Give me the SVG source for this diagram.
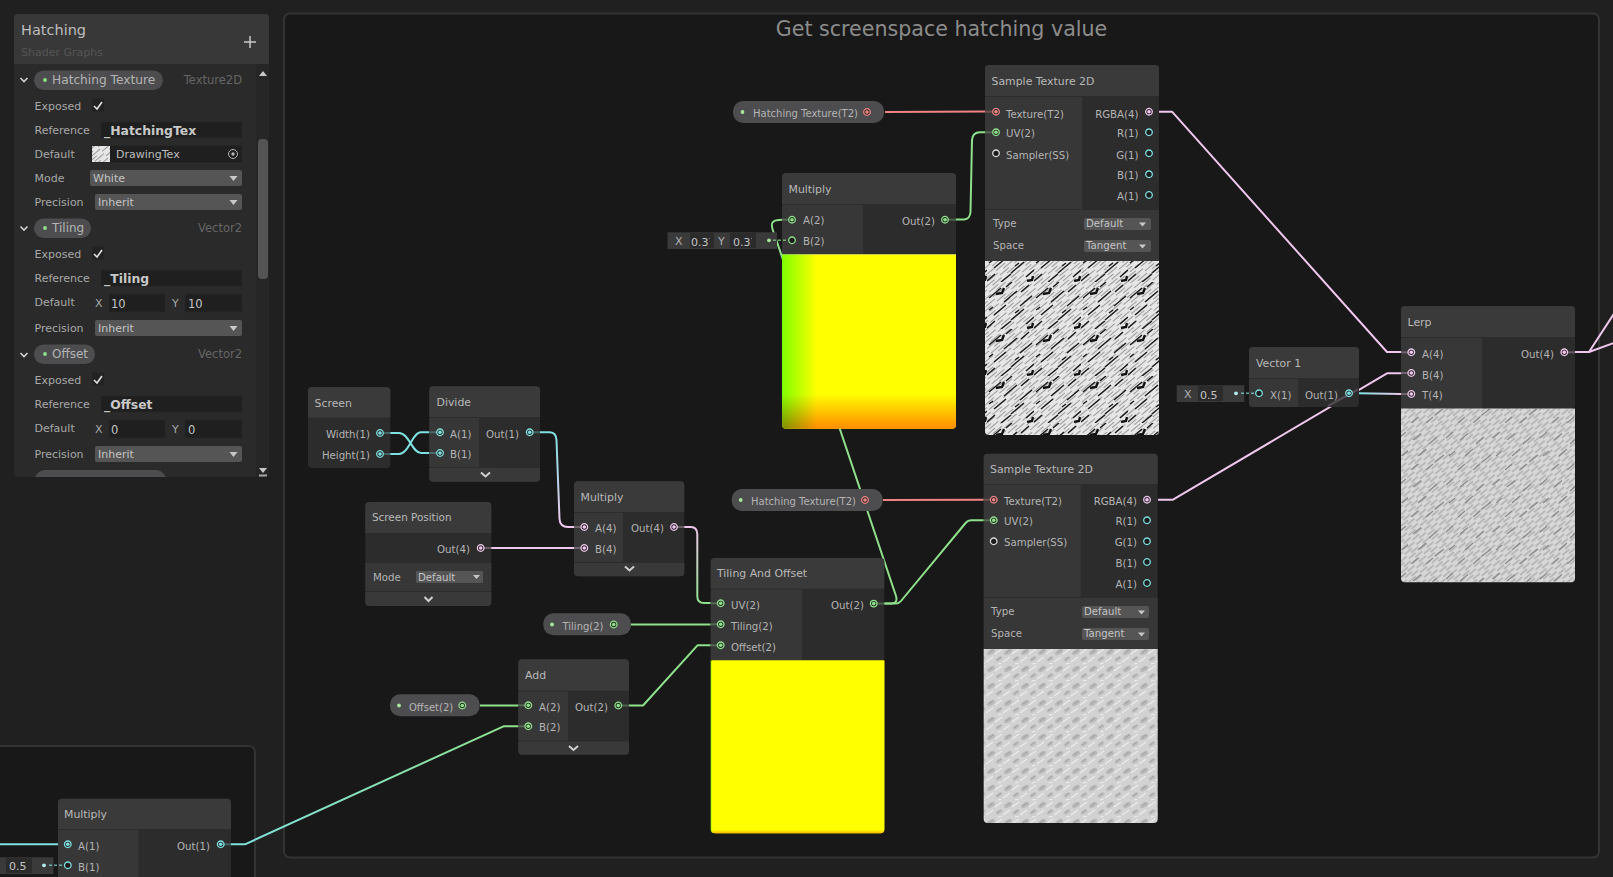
<svg xmlns="http://www.w3.org/2000/svg" width="1613" height="877" viewBox="0 0 1613 877">
<style>
text{font-family:"DejaVu Sans","Liberation Sans",sans-serif;font-size:10.2px;fill:#b4b4b4}
.t{font-size:10.9px;fill:#b8b8b8}
.lb{font-size:11px;fill:#a8a8a8}
.r{text-anchor:end}
.pt{font-size:12px;fill:#b4b4b4}
.ty{font-size:11.5px;fill:#666;text-anchor:end}
.bf{font-size:12.4px;font-weight:bold;fill:#c8c8c8}
.v{font-size:11px;fill:#c4c4c4}
.pl{font-size:10px}
.body{fill:#2c2c2c}
.hd{fill:#3a3a3a}
.lc{fill:#373737}
.ft{fill:#393939}
.pill{fill:#4d4d4f}
.fld{fill:#1f1f1f;stroke:#262626;stroke-width:1}
.dd{fill:#555}
.ar{fill:#c8c8c8}
.vfld{fill:#3a3a3a}
.wire{fill:none;stroke-width:2;stroke-linejoin:round;stroke-linecap:butt}
.chev{fill:none;stroke:#d0d0d0;stroke-width:2}
.chk{fill:none;stroke:#e0e0e0;stroke-width:1.6}
.g{color:#8fe08a}.k{color:#efc6ec}.c{color:#7fe0e0}.s{color:#f08484}.w{color:#dddddd}
.stub{stroke-width:2;opacity:.3}
</style>
<defs>
<g id="pc"><circle r="3.3" fill="#2a2a2a" stroke="currentColor" stroke-width="1.3"/><circle r="1.8" fill="currentColor"/></g>
<g id="po"><circle r="3.3" fill="#1c1c1c" stroke="currentColor" stroke-width="1.3"/></g>
<circle id="dot" r="1.9"/>
<linearGradient id="gDiv" gradientUnits="userSpaceOnUse" x1="0" y1="432" x2="0" y2="527"><stop offset="0" stop-color="#7fe0e0"/><stop offset="1" stop-color="#efc6ec"/></linearGradient>
<linearGradient id="gUv" gradientUnits="userSpaceOnUse" x1="0" y1="527" x2="0" y2="603"><stop offset="0" stop-color="#efc6ec"/><stop offset="1" stop-color="#8fe08a"/></linearGradient>
<linearGradient id="gB" gradientUnits="userSpaceOnUse" x1="231" y1="844" x2="518" y2="726"><stop offset="0" stop-color="#7fe0e0"/><stop offset="1" stop-color="#8fe08a"/></linearGradient>
<linearGradient id="gT" gradientUnits="userSpaceOnUse" x1="1359" y1="0" x2="1401" y2="0"><stop offset="0" stop-color="#7fe0e0"/><stop offset="1" stop-color="#efc6ec"/></linearGradient>
<linearGradient id="mH" x1="0" x2="1" y1="0" y2="0"><stop offset="0" stop-color="#80ff00"/><stop offset=".2" stop-color="#ffff00"/><stop offset="1" stop-color="#ffff00"/></linearGradient>
<linearGradient id="mV" x1="0" x2="0" y1="0" y2="1"><stop offset=".8" stop-color="#ffffff"/><stop offset="1" stop-color="#ff8c00"/></linearGradient>
<linearGradient id="tH" x1="0" x2="1" y1="0" y2="0"><stop offset="0" stop-color="#b8ff00"/><stop offset=".02" stop-color="#ffff00"/></linearGradient>
<linearGradient id="tV" x1="0" x2="0" y1="0" y2="1"><stop offset=".98" stop-color="#ffff00"/><stop offset="1" stop-color="#ffb000"/></linearGradient>
<pattern id="fine1" patternUnits="userSpaceOnUse" width="19" height="6" patternTransform="rotate(-40)"><rect width="19" height="6" fill="#e6e6e6"/><path d="M0 1.500H12M7 4.500H19" stroke="#9a9a9a" stroke-width="1.100"/></pattern>
<pattern id="dash1" patternUnits="userSpaceOnUse" width="47" height="47"><path d="M2 16l12-10M17 20l13-11M33 24l12-10M7 33l12-10M24 38l13-11M39 42l8-7M0 46l8-7M14 47l10-8M34 10l8-7M19 5l6-5M2 28l4-3M28 31l4-3" fill="none" stroke="#1c1c1c" stroke-width="1.500"/><path d="M9 12l6-1 2-5M40 46l5-1 1-4" fill="none" stroke="#111" stroke-width="2.400"/></pattern>
<pattern id="tex2" patternUnits="userSpaceOnUse" width="17" height="17"><rect width="17" height="17" fill="#d2d2d2"/><ellipse cx="5" cy="6" rx="4.500" ry="2.400" transform="rotate(-30 5 6)" fill="#bababa"/><ellipse cx="13" cy="13" rx="3.800" ry="2" transform="rotate(-30 13 13)" fill="#c0c0c0"/><path d="M0 16l7-5M9 8l7-5M12 1l4-1" stroke="#ececec" stroke-width="1.200"/><path d="M3 7l4-3M11 14l4-3" stroke="#9a9a9a" stroke-width=".9"/></pattern>
<pattern id="fine3" patternUnits="userSpaceOnUse" width="15" height="6" patternTransform="rotate(-40)"><rect width="15" height="6" fill="#d8d8d8"/><path d="M0 1.500H9M6 4.500H15" stroke="#adadad" stroke-width="1.300"/></pattern>
<pattern id="dash3" patternUnits="userSpaceOnUse" width="47" height="47"><path d="M3 17l8-6.500M19 21l8-7M36 15l7-6M8 33l8-7M25 39l9-7M39 33l6-5M1 47l7-6M16 47l7-6" fill="none" stroke="#8a8a8a" stroke-width="1.300"/></pattern>
<clipPath id="panelClip"><rect x="14" y="14" width="255" height="463" rx="4"/></clipPath>
</defs>
<rect width="1613" height="877" fill="#202020"/>
<g id="group-main"><rect x="284" y="13.500" width="1315" height="844" rx="6" fill="#181818" stroke="#333" stroke-width="2"/>
<text x="941.500" y="36" text-anchor="middle" style="font-size:20.600px;fill:#8c8c8c">Get screenspace hatching value</text></g>
<g id="group-left"><path d="M-3 746H249a6 6 0 0 1 6 6V880H-3Z" fill="#181818" stroke="#333" stroke-width="2"/></g>

<g id="connectors">
<path class="wire" stroke="#f08484" d="M885 112L985 111.500"/>
<path class="wire" stroke="#8fe08a" d="M956 219.500H964Q970 219 970.500 212L972 140Q972.500 132.500 980 132.300H985"/>
<path class="wire" stroke="#8fe08a" d="M884 603.500H892Q898 603 896 596L775 236Q770 224 773 222Q775 219.700 782 219.700"/>
<path class="wire" stroke="#8fe08a" d="M884 603.500H896Q899 603.500 901 601L966 522.500Q968 520.300 971 520.300H984"/>
<path class="wire" stroke="#f08484" d="M883 500L984 499.700"/>
<path class="wire" stroke="#efc6ec" d="M1159 111.700H1172L1387 352H1401"/>
<path class="wire" stroke="#efc6ec" d="M1158 499.700H1173L1387 373.300H1401"/>
<path class="wire" stroke="url(#gT)" d="M1359 393.300L1401 394"/>
<path class="wire" stroke="#efc6ec" d="M1575 352H1589L1615 312M1589 352L1615 342.500"/>
<path class="wire" stroke="#7fe0e0" d="M390 433H399C409 433 412 453 421 453H429.500M390 454H399C409 454 412 432.300 421 432.300H429.500"/>
<path class="wire" stroke="url(#gDiv)" d="M540 432.300H550Q556 432.500 556.500 440L559.500 519Q560 527 568 527H574"/>
<path class="wire" stroke="#efc6ec" d="M491 548H574"/>
<path class="wire" stroke="url(#gUv)" d="M684 527H691Q697 527 697.300 534V596Q697.300 603 704 603H711"/>
<path class="wire" stroke="#8fe08a" d="M631 624.500H711"/>
<path class="wire" stroke="#8fe08a" d="M480 705.500H518.500"/>
<path class="wire" stroke="#8fe08a" d="M629 705.500H643L697.500 645.300H711"/>
<path class="wire" stroke="url(#gB)" d="M231 844.300H245L503.500 726.300H518.500"/>
<path class="wire" stroke="#7fe0e0" d="M0 844.300H58"/>
</g>

<g id="node-hatch-prop-1"><rect class="pill" x="733" y="101" width="151" height="22" rx="10"/><use href="#dot" x="742.500" y="112" fill="#a8e89c"/><text class="pl" x="753" y="117">Hatching Texture(T2)</text><use href="#pc" x="867" y="112" class="s"/></g>

<g id="node-sample-1"><rect class="body" x="985" y="65" width="174" height="370" rx="4"/><path class="hd" d="M985 96V69a4 4 0 0 1 4-4H1155a4 4 0 0 1 4 4V96Z"/><rect class="lc" x="985" y="97" width="97" height="112"/>
<rect class="lc" x="985" y="210" width="174" height="51"/>
<text class="t" x="991.500" y="85">Sample Texture 2D</text>
<line class="stub" x1="1000" y1="111.700" x2="985" y2="111.700" stroke="#f08484"/><line class="stub" x1="1000" y1="132.300" x2="985" y2="132.300" stroke="#8fe08a"/>
<use href="#pc" x="996" y="111.700" class="s"/><use href="#pc" x="996" y="132.300" class="g"/><use href="#po" x="996" y="153.300" class="w"/>
<text x="1006" y="117.500">Texture(T2)</text><text x="1006" y="137">UV(2)</text><text x="1006" y="158.500">Sampler(SS)</text>
<text class="r" x="1138.500" y="117.500">RGBA(4)</text><text class="r" x="1138.500" y="137">R(1)</text><text class="r" x="1138.500" y="158.500">G(1)</text><text class="r" x="1138.500" y="179">B(1)</text><text class="r" x="1138.500" y="200">A(1)</text>
<use href="#pc" x="1149" y="111.700" class="k"/><use href="#po" x="1149" y="132.300" class="c"/><use href="#po" x="1149" y="153.300" class="c"/><use href="#po" x="1149" y="174.300" class="c"/><use href="#po" x="1149" y="195" class="c"/>
<text x="993" y="227">Type</text><text x="993" y="249">Space</text>
<rect class="dd" x="1084" y="218" width="67" height="12" rx="2"/><rect class="dd" x="1084" y="240" width="67" height="12" rx="2"/>
<text x="1086" y="227" style="fill:#c4c4c4">Default</text><text x="1086" y="249" style="fill:#c4c4c4">Tangent</text>
<path class="ar" d="M1139 222.500h7l-3.500 4zM1139 244.500h7l-3.500 4z"/>
<path id="pv1" fill="url(#fine1)" d="M985 261H1159V431a4 4 0 0 1-4 4H989a4 4 0 0 1-4-4Z"/>
<path fill="url(#dash1)" d="M985 261H1159V431a4 4 0 0 1-4 4H989a4 4 0 0 1-4-4Z"/></g>

<g id="node-multiply-1"><rect class="body" x="782" y="173.300" width="174" height="85" rx="4"/><path class="hd" d="M782 204V177a4 4 0 0 1 4-4H952a4 4 0 0 1 4 4V204Z"/><rect class="lc" x="782" y="205" width="81" height="50"/>
<text class="t" x="788.500" y="193">Multiply</text>
<line class="stub" x1="793" y1="219.700" x2="782" y2="219.700" stroke="#8fe08a"/>
<use href="#pc" x="792" y="219.700" class="g"/><use href="#po" x="792" y="240.300" class="g"/>
<text x="803" y="224">A(2)</text><text x="803" y="245">B(2)</text><text class="r" x="935" y="224.500">Out(2)</text><use href="#pc" x="945" y="219.700" class="g"/>
<line x1="945" y1="219.700" x2="956" y2="219.700" class="stub" stroke="#8fe08a"/>
<g style="isolation:isolate"><path fill="url(#mH)" d="M782 254.500H956V424.700a4 4 0 0 1-4 4H786a4 4 0 0 1-4-4Z"/><path fill="url(#mV)" style="mix-blend-mode:multiply" d="M782 254.500H956V424.700a4 4 0 0 1-4 4H786a4 4 0 0 1-4-4Z"/></g>
<rect class="vfld" x="667.500" y="232.300" width="109.500" height="16.700"/><rect x="690" y="233" width="24" height="15" fill="#2b2b2b"/><rect x="730" y="233" width="26" height="15" fill="#2b2b2b"/>
<text x="675" y="245" style="fill:#b0b0b0;font-size:11px">X</text><text x="691" y="245.500" class="v">0.37</text><text x="718" y="245" style="fill:#b0b0b0;font-size:11px">Y</text><text x="733" y="245.500" class="v">0.37</text>
<rect x="710" y="233" width="4" height="15" fill="#2b2b2b"/><rect x="714" y="233" width="4" height="15" fill="#3a3a3a"/><rect x="752" y="233" width="4" height="15" fill="#2b2b2b"/><rect x="756" y="233" width="6" height="15" fill="#3a3a3a"/>
<use href="#dot" x="769" y="240.300" fill="#a8e89c"/><path d="M773 240.300H788" stroke="#8fe08a" stroke-width="1.500" stroke-dasharray="3 2" opacity=".7"/></g>

<g id="node-screen"><rect class="body" x="308" y="387" width="82.300" height="81" rx="4"/><path class="hd" d="M308 417.500V391a4 4 0 0 1 4-4H386.300a4 4 0 0 1 4 4V417.500Z"/><text class="t" x="314.500" y="407">Screen</text><text class="r" x="370" y="437.500">Width(1)</text><text class="r" x="370" y="459">Height(1)</text>
<line class="stub" x1="381" y1="433" x2="390" y2="433" stroke="#7fe0e0"/><line class="stub" x1="381" y1="454" x2="390" y2="454" stroke="#7fe0e0"/><use href="#pc" x="380" y="433" class="c"/><use href="#pc" x="380" y="454" class="c"/></g>

<g id="node-divide"><rect class="body" x="429.300" y="386.300" width="110.700" height="95.400" rx="4"/><path class="hd" d="M429.300 417V390.300a4 4 0 0 1 4-4H536a4 4 0 0 1 4 4V417Z"/><rect class="lc" x="429.300" y="418" width="49.700" height="49"/><path class="ft" d="M429.300 468H540V477.700a4 4 0 0 1-4 4H433.300a4 4 0 0 1-4-4Z"/>
<text class="t" x="436.500" y="406">Divide</text><text x="450" y="437.500">A(1)</text><text x="450" y="458">B(1)</text><text class="r" x="519" y="437.500">Out(1)</text>
<use href="#pc" x="440" y="432.300" class="c"/><use href="#pc" x="440" y="453" class="c"/><use href="#pc" x="529.700" y="432.300" class="c"/><line class="stub" x1="429.300" y1="432.300" x2="437" y2="432.300" stroke="#7fe0e0"/><line class="stub" x1="429.300" y1="453" x2="437" y2="453" stroke="#7fe0e0"/><line class="stub" x1="533" y1="432.300" x2="540" y2="432.300" stroke="#7fe0e0"/>
<path class="chev" d="M481 472.500l4.500 4 4.500-4"/></g>

<g id="node-screen-position"><rect class="body" x="365.300" y="502" width="126" height="104" rx="4"/><path class="hd" d="M365.300 533V506a4 4 0 0 1 4-4H487.300a4 4 0 0 1 4 4V533Z"/><rect class="lc" x="365.300" y="563" width="126" height="28"/><path class="ft" d="M365.300 592H491.300V602a4 4 0 0 1-4 4H369.300a4 4 0 0 1-4-4Z"/>
<text class="t" x="372" y="521" style="font-size:10.400px">Screen Position</text><text class="r" x="470" y="553">Out(4)</text><use href="#pc" x="480.700" y="548" class="k"/><line class="stub" x1="484" y1="548" x2="491" y2="548" stroke="#efc6ec"/>
<text x="373" y="581">Mode</text><rect class="dd" x="416" y="571" width="67" height="12" rx="1"/><text x="418" y="581" style="fill:#c4c4c4">Default</text><path class="ar" d="M473 575h7l-3.500 4z"/>
<path class="chev" d="M424.500 597l4 4 4-4"/></g>

<g id="node-multiply-3"><rect class="body" x="574" y="481.300" width="110.300" height="95" rx="4"/><path class="hd" d="M574 512V485.300a4 4 0 0 1 4-4H680.300a4 4 0 0 1 4 4V512Z"/><rect class="lc" x="574" y="513" width="49" height="49"/><path class="ft" d="M574 563H684.300V572.300a4 4 0 0 1-4 4H578a4 4 0 0 1-4-4Z"/>
<text class="t" x="580.500" y="501">Multiply</text><text x="595" y="532">A(4)</text><text x="595" y="553">B(4)</text><text class="r" x="664" y="532">Out(4)</text>
<use href="#pc" x="584.300" y="527" class="k"/><use href="#pc" x="584.300" y="548" class="k"/><use href="#pc" x="674" y="527" class="k"/><line class="stub" x1="574" y1="527" x2="581" y2="527" stroke="#efc6ec"/><line class="stub" x1="574" y1="548" x2="581" y2="548" stroke="#efc6ec"/><line class="stub" x1="677" y1="527" x2="684" y2="527" stroke="#efc6ec"/>
<path class="chev" d="M625 566.500l4.500 4 4.500-4"/></g>

<g id="node-tiling-prop"><rect class="pill" x="543.300" y="613.300" width="87.700" height="22" rx="10"/><use href="#dot" x="552" y="624.500" fill="#a8e89c"/><text class="pl" x="562.500" y="629.500">Tiling(2)</text><use href="#pc" x="613.700" y="624.500" class="g"/></g>
<g id="node-offset-prop"><rect class="pill" x="390" y="694.300" width="89.700" height="22" rx="10"/><use href="#dot" x="399" y="705.500" fill="#a8e89c"/><text class="pl" x="409" y="711">Offset(2)</text><use href="#pc" x="462.300" y="705.500" class="g"/></g>

<g id="node-add"><rect class="body" x="518.300" y="659.300" width="110.700" height="95.400" rx="4"/><path class="hd" d="M518.300 690.500V663.300a4 4 0 0 1 4-4H625a4 4 0 0 1 4 4V690.500Z"/><rect class="lc" x="518.300" y="691.500" width="49.700" height="49"/><path class="ft" d="M518.300 741.500H629V750.700a4 4 0 0 1-4 4H522.300a4 4 0 0 1-4-4Z"/>
<text class="t" x="525" y="679">Add</text><text x="539" y="711">A(2)</text><text x="539" y="731">B(2)</text><text class="r" x="608" y="711">Out(2)</text>
<use href="#pc" x="528.300" y="705.300" class="g"/><use href="#pc" x="528.300" y="726.300" class="g"/><use href="#pc" x="618.300" y="705.500" class="g"/><line class="stub" x1="518" y1="705.300" x2="525" y2="705.300" stroke="#8fe08a"/><line class="stub" x1="518" y1="726.300" x2="525" y2="726.300" stroke="#8fe08a"/><line class="stub" x1="622" y1="705.500" x2="629" y2="705.500" stroke="#8fe08a"/>
<path class="chev" d="M569 746l4.500 4 4.500-4"/></g>

<g id="node-tiling-offset"><rect class="body" x="710.700" y="558" width="173.600" height="103" rx="4"/><path class="hd" d="M710.700 588.500V562a4 4 0 0 1 4-4H880.300a4 4 0 0 1 4 4V588.500Z"/><rect class="lc" x="710.700" y="589.500" width="91.300" height="71"/>
<text class="t" x="717" y="577">Tiling And Offset</text><text x="731" y="609">UV(2)</text><text x="731" y="630">Tiling(2)</text><text x="731" y="651">Offset(2)</text><text class="r" x="864" y="609">Out(2)</text>
<use href="#pc" x="720.700" y="603.300" class="g"/><use href="#pc" x="720.700" y="624.300" class="g"/><use href="#pc" x="720.700" y="645.300" class="g"/><use href="#pc" x="873.700" y="603.600" class="g"/><line class="stub" x1="711" y1="603.300" x2="718" y2="603.300" stroke="#8fe08a"/><line class="stub" x1="711" y1="624.300" x2="718" y2="624.300" stroke="#8fe08a"/><line class="stub" x1="711" y1="645.300" x2="718" y2="645.300" stroke="#8fe08a"/><line class="stub" x1="877" y1="603.600" x2="884" y2="603.600" stroke="#8fe08a"/>
<g style="isolation:isolate"><path fill="url(#tH)" d="M710.700 660.500H884.300V829.300a4 4 0 0 1-4 4H714.700a4 4 0 0 1-4-4Z"/><path fill="url(#tV)" d="M712 660.500H884.300V829.300a4 4 0 0 1-4 4H716a4 4 0 0 1-4-4Z"/></g></g>

<g id="node-hatch-prop-2"><rect class="pill" x="731.700" y="489" width="151" height="22" rx="10"/><use href="#dot" x="740.700" y="500" fill="#a8e89c"/><text class="pl" x="751" y="505">Hatching Texture(T2)</text><use href="#pc" x="865" y="500" class="s"/></g>

<g id="node-sample-2"><rect class="body" x="983.700" y="453.700" width="174" height="369.300" rx="4"/><path class="hd" d="M983.700 484V457.700a4 4 0 0 1 4-4H1153.700a4 4 0 0 1 4 4V484Z"/><rect class="lc" x="983.700" y="485" width="97" height="112"/><rect class="lc" x="983.700" y="598" width="174" height="51"/>
<text class="t" x="990" y="473">Sample Texture 2D</text>
<line class="stub" x1="998" y1="499.700" x2="983.700" y2="499.700" stroke="#f08484"/><line class="stub" x1="998" y1="520.300" x2="983.700" y2="520.300" stroke="#8fe08a"/>
<use href="#pc" x="993.700" y="499.700" class="s"/><use href="#pc" x="993.700" y="520.300" class="g"/><use href="#po" x="993.700" y="541.300" class="w"/>
<text x="1004" y="504.500">Texture(T2)</text><text x="1004" y="525">UV(2)</text><text x="1004" y="546">Sampler(SS)</text>
<text class="r" x="1137" y="504.500">RGBA(4)</text><text class="r" x="1137" y="525">R(1)</text><text class="r" x="1137" y="546">G(1)</text><text class="r" x="1137" y="567">B(1)</text><text class="r" x="1137" y="588">A(1)</text>
<use href="#pc" x="1147" y="499.700" class="k"/><use href="#po" x="1147" y="520.300" class="c"/><use href="#po" x="1147" y="541.300" class="c"/><use href="#po" x="1147" y="562" class="c"/><use href="#po" x="1147" y="583" class="c"/>
<text x="991" y="615">Type</text><text x="991" y="637">Space</text>
<rect class="dd" x="1082" y="606" width="67" height="12" rx="2"/><rect class="dd" x="1082" y="628" width="67" height="12" rx="2"/>
<text x="1084" y="615" style="fill:#c4c4c4">Default</text><text x="1084" y="637" style="fill:#c4c4c4">Tangent</text>
<path class="ar" d="M1138 610.500h7l-3.500 4zM1138 632.500h7l-3.500 4z"/>
<path fill="url(#tex2)" d="M983.700 649H1157.700V819a4 4 0 0 1-4 4H987.700a4 4 0 0 1-4-4Z"/></g>

<g id="node-vector1"><rect class="body" x="1249" y="347" width="110" height="60" rx="4"/><path class="hd" d="M1249 378V351a4 4 0 0 1 4-4H1355a4 4 0 0 1 4 4V378Z"/><path class="lc" d="M1249 379H1298V407H1253a4 4 0 0 1-4-4Z"/>
<text class="t" x="1256" y="367">Vector 1</text><text x="1270" y="398.500">X(1)</text><text class="r" x="1338" y="398.500">Out(1)</text>
<path d="M1328 406L1358 389.500" stroke="#efc6ec" stroke-width="2" opacity=".2"/>
<use href="#po" x="1259" y="393.300" class="c"/><use href="#pc" x="1349" y="393.300" class="c"/>
<rect class="vfld" x="1176.700" y="385.300" width="67.600" height="16.700"/><rect x="1198" y="386" width="25" height="15" fill="#2b2b2b"/><text x="1184" y="398" style="fill:#b0b0b0;font-size:11px">X</text><text x="1200" y="398.500" class="v">0.5</text>
<use href="#dot" x="1236" y="393.300" fill="#b0ecec"/><path d="M1241 393.300H1255" stroke="#7fe0e0" stroke-width="1.500" stroke-dasharray="3 2" opacity=".7"/></g>

<g id="node-lerp"><rect class="body" x="1401" y="306" width="174" height="103" rx="4"/><path class="hd" d="M1401 337V310a4 4 0 0 1 4-4H1571a4 4 0 0 1 4 4V337Z"/><rect class="lc" x="1401" y="338" width="81" height="71"/>
<text class="t" x="1407.500" y="326">Lerp</text><text x="1422" y="357.500">A(4)</text><text x="1422" y="378.500">B(4)</text><text x="1422" y="399">T(4)</text><text class="r" x="1554" y="357.500">Out(4)</text>
<use href="#pc" x="1411.300" y="352.300" class="k"/><use href="#pc" x="1411.300" y="373" class="k"/><use href="#pc" x="1411.300" y="394" class="k"/><use href="#pc" x="1564.300" y="352.300" class="k"/>
<line class="stub" x1="1401" y1="352.300" x2="1408" y2="352.300" stroke="#efc6ec"/><line class="stub" x1="1401" y1="373" x2="1408" y2="373" stroke="#efc6ec"/><line class="stub" x1="1401" y1="394" x2="1408" y2="394" stroke="#efc6ec"/><line class="stub" x1="1568" y1="352.300" x2="1575" y2="352.300" stroke="#efc6ec"/>
<path fill="url(#fine3)" d="M1401 408.500H1575V578.300a4 4 0 0 1-4 4H1405a4 4 0 0 1-4-4Z"/><path fill="url(#dash3)" d="M1401 408.500H1575V578.300a4 4 0 0 1-4 4H1405a4 4 0 0 1-4-4Z"/></g>

<g id="node-multiply-2"><rect class="body" x="58" y="798.700" width="173" height="90" rx="4"/><path class="hd" d="M58 829V802.700a4 4 0 0 1 4-4H227a4 4 0 0 1 4 4V829Z"/><rect class="lc" x="58" y="830" width="80.500" height="50"/>
<text class="t" x="64" y="818">Multiply</text><text x="78" y="850">A(1)</text><text x="78" y="871">B(1)</text><text class="r" x="210" y="850">Out(1)</text>
<use href="#pc" x="67.800" y="844.300" class="c"/><use href="#po" x="67.800" y="865.300" class="c"/><use href="#pc" x="220.700" y="844.300" class="c"/>
<line class="stub" x1="224" y1="844.300" x2="231" y2="844.300" stroke="#7fe0e0"/>
<rect class="vfld" x="-3" y="857.300" width="56.400" height="16.700"/><rect x="6" y="858" width="26" height="15" fill="#2b2b2b"/><text x="9" y="870" class="v">0.5</text>
<use href="#dot" x="44" y="865.300" fill="#b0ecec"/><path d="M49 865.300H64" stroke="#7fe0e0" stroke-width="1.500" stroke-dasharray="3 2" opacity=".7"/></g>

<g id="blackboard" clip-path="url(#panelClip)">
<rect x="14" y="14" width="255" height="463" fill="#2a2a2a"/>
<rect x="14" y="14" width="255" height="50" fill="#383838"/>
<text x="21" y="35" style="font-size:14.500px;fill:#bdbdbd">Hatching</text>
<text x="21" y="56" style="font-size:11px;fill:#555">Shader Graphs</text>
<path d="M244 42h12M250 36v12" stroke="#c8c8c8" stroke-width="1.500"/>
<rect x="256" y="64" width="13" height="413" fill="#262626"/>
<rect x="258" y="139" width="10" height="140" rx="4" fill="#545454"/>
<path d="M259 76h8l-4-5zM259 468h8l-4 5z" fill="#c8c8c8"/><rect x="259" y="474.500" width="8" height="2" fill="#a8a8a8"/>

<path class="chev" d="M20.500 78l3.500 3.500 3.500-3.500M20.500 226.500l3.500 3.500 3.500-3.500M20.500 353l3.500 3.500 3.500-3.500" style="stroke-width:1.600"/>

<rect class="pill" x="34" y="70.500" width="129" height="19.500" rx="9.700"/><use href="#dot" x="45" y="80" fill="#8fe08a"/><text class="pt" x="52" y="84" style="font-size:12.200px">Hatching Texture</text><text class="ty" x="242" y="84">Texture2D</text>
<text class="lb" x="34.500" y="110">Exposed</text><rect x="92" y="98.500" width="12" height="13" fill="#222"/><path class="chk" d="M94 106l3 3 5-7"/>
<text class="lb" x="34.500" y="134">Reference</text><rect class="fld" x="101" y="122" width="141" height="16"/><text class="bf" x="104" y="135">_HatchingTex</text>
<text class="lb" x="34.500" y="158">Default</text><rect class="fld" x="91" y="145.500" width="151" height="17"/><rect x="92" y="146" width="18" height="16" fill="url(#fine1)"/><text x="116" y="158" style="font-size:11px;fill:#bdbdbd">DrawingTex</text><circle cx="233" cy="154" r="4.500" fill="none" stroke="#b4b4b4"/><circle cx="233" cy="154" r="1.700" fill="#b4b4b4"/>
<text class="lb" x="34.500" y="182">Mode</text><rect class="dd" x="90" y="170" width="152" height="16" rx="2"/><text x="93" y="182" style="font-size:11px;fill:#c4c4c4">White</text>
<text class="lb" x="34.500" y="206">Precision</text><rect class="dd" x="95" y="194" width="147" height="16" rx="2"/><text x="98" y="206" style="font-size:11px;fill:#c4c4c4">Inherit</text>
<path class="ar" d="M229.500 176h8l-4 5zM229.500 200h8l-4 5z"/>

<rect class="pill" x="34" y="218.500" width="57" height="19.500" rx="9.700"/><use href="#dot" x="45" y="228" fill="#8fe08a"/><text class="pt" x="52" y="232">Tiling</text><text class="ty" x="242" y="232">Vector2</text>
<text class="lb" x="34.500" y="258">Exposed</text><rect x="92" y="246.500" width="12" height="13" fill="#222"/><path class="chk" d="M94 254l3 3 5-7"/>
<text class="lb" x="34.500" y="282">Reference</text><rect class="fld" x="101" y="270" width="141" height="16"/><text class="bf" x="104" y="283">_Tiling</text>
<text class="lb" x="34.500" y="306">Default</text><text class="lb" x="95" y="307">X</text><rect class="fld" x="109" y="294" width="56" height="18"/><text x="111" y="307.500" style="font-size:11.500px;fill:#c4c4c4">10</text><text class="lb" x="172" y="307">Y</text><rect class="fld" x="185" y="294" width="57" height="18"/><text x="188" y="307.500" style="font-size:11.500px;fill:#c4c4c4">10</text>
<text class="lb" x="34.500" y="332">Precision</text><rect class="dd" x="95" y="320" width="147" height="16" rx="2"/><text x="98" y="332" style="font-size:11px;fill:#c4c4c4">Inherit</text><path class="ar" d="M229.500 326h8l-4 5z"/>

<rect class="pill" x="34" y="344.500" width="61" height="19.500" rx="9.700"/><use href="#dot" x="45" y="354" fill="#8fe08a"/><text class="pt" x="52" y="358">Offset</text><text class="ty" x="242" y="358">Vector2</text>
<text class="lb" x="34.500" y="384">Exposed</text><rect x="92" y="372.500" width="12" height="13" fill="#222"/><path class="chk" d="M94 380l3 3 5-7"/>
<text class="lb" x="34.500" y="408">Reference</text><rect class="fld" x="101" y="396" width="141" height="16"/><text class="bf" x="104" y="409">_Offset</text>
<text class="lb" x="34.500" y="432">Default</text><text class="lb" x="95" y="433">X</text><rect class="fld" x="109" y="420" width="56" height="18"/><text x="111" y="433.500" style="font-size:11.500px;fill:#c4c4c4">0</text><text class="lb" x="172" y="433">Y</text><rect class="fld" x="185" y="420" width="57" height="18"/><text x="188" y="433.500" style="font-size:11.500px;fill:#c4c4c4">0</text>
<text class="lb" x="34.500" y="458">Precision</text><rect class="dd" x="95" y="446" width="147" height="16" rx="2"/><text x="98" y="458" style="font-size:11px;fill:#c4c4c4">Inherit</text><path class="ar" d="M229.500 452h8l-4 5z"/>

<rect class="pill" x="35" y="470" width="131" height="20" rx="10"/>
</g>
</svg>
